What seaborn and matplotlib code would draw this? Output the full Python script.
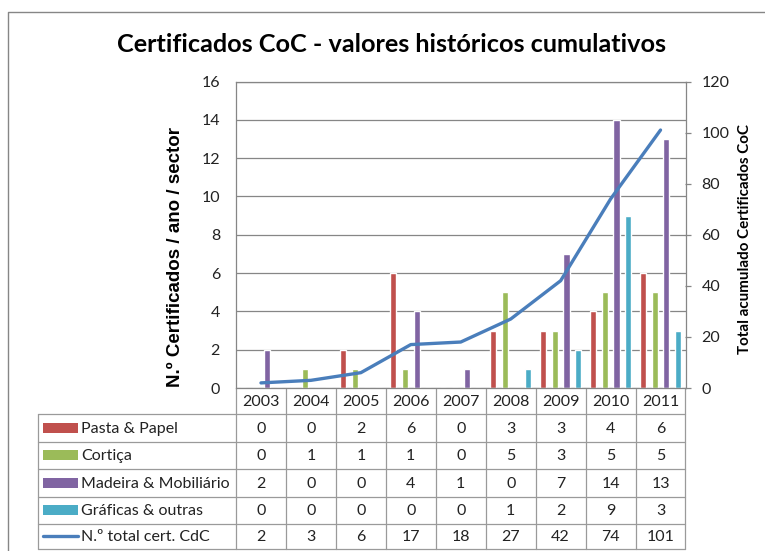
import numpy as np
import pandas as pd
import matplotlib
matplotlib.use('Agg')
import matplotlib.pyplot as plt
import seaborn as sns

# ---------------- data ----------------
years = ['2003', '2004', '2005', '2006', '2007', '2008', '2009', '2010', '2011']
pasta_papel = [0, 0, 2, 6, 0, 3, 3, 4, 6]
cortica = [0, 1, 1, 1, 0, 5, 3, 5, 5]
madeira = [2, 0, 0, 4, 1, 0, 7, 14, 13]
graficas = [0, 0, 0, 0, 0, 1, 2, 9, 3]
total_cum = [2, 3, 6, 17, 18, 27, 42, 74, 101]
sector_names = ['Pasta & Papel', 'Cortiça', 'Madeira & Mobiliário', 'Gráficas & outras']
line_name = 'N.º total cert. CdC'
title = 'Certificados CoC - valores históricos cumulativos'
ylabel_left = 'N.º Certificados / ano / sector'
ylabel_right = 'Total acumulado Certificados CoC'

bar_colors = ['#C0504D', '#9BBB59', '#8064A2', '#4BACC6']
line_color = '#4A7EBB'
grid_color = '#868686'
text_color = '#000000'

sector_values = [pasta_papel, cortica, madeira, graficas]
rows = []
for name, vals in zip(sector_names, sector_values):
    for y, v in zip(years, vals):
        rows.append({'year': y, 'sector': name, 'value': v})
df = pd.DataFrame(rows)

# ---------------- figure ----------------
sns.set_theme(style='white')
plt.rcParams['font.family'] = ['Lato', 'DejaVu Sans']

W, H = 765, 551
fig = plt.figure(figsize=(W / 100, H / 100), dpi=100)
fig.patch.set_facecolor('white')


def px(x0, y0, x1, y1):
    return [x0 / W, 1 - y1 / H, (x1 - x0) / W, (y1 - y0) / H]


L, T, R, B = 236, 81.5, 685.5, 388
FS = 11.5

# overlay for table / frame
tab = fig.add_axes([0, 0, 1, 1])
tab.set_xlim(0, W)
tab.set_ylim(H, 0)
tab.axis('off')
tab.patch.set_visible(False)

ax = fig.add_axes(px(L, T, R, B))
sns.barplot(data=df, x='year', y='value', hue='sector', hue_order=sector_names,
            order=years, palette=bar_colors, saturation=1, width=0.94, gap=0.48,
            ax=ax, legend=False, zorder=2)
ax.set_xlim(-0.5, 8.5)
ax.set_ylim(0, 16)
ax.set_yticks(np.arange(0, 17, 2))
ax.yaxis.grid(True, color=grid_color, lw=0.9, zorder=0)
ax.set_axisbelow(True)
ax.set_xticks([])
ax.set_xlabel('')
ax.set_ylabel('')
ax.tick_params(axis='y', length=0, pad=11.5, labelsize=FS, labelcolor='#222222')
for s in ax.spines.values():
    s.set_color(grid_color)
    s.set_linewidth(0.9)

ax2 = ax.twinx()
sns.lineplot(x=np.arange(len(years)), y=total_cum, ax=ax2, color=line_color,
             lw=2.4, solid_capstyle='round')
ax2.set_xlim(-0.5, 8.5)
ax2.set_ylim(0, 120)
ax2.set_yticks(np.arange(0, 121, 20))
ax2.set_ylabel('')
ax2.tick_params(axis='y', length=4, width=0.9, color=grid_color, direction='out',
                pad=7.5, labelsize=FS, labelcolor='#222222')
for s in ax2.spines.values():
    s.set_visible(False)

# axis titles and chart title
fig.text(391.5 / W, 1 - 45 / H, title, ha='center', va='center',
         fontsize=18.2, fontweight='bold', color=text_color)
fig.text(175 / W, 1 - 257 / H, ylabel_left, ha='center', va='center', rotation=90,
         fontsize=13.5, fontweight='bold', family=['Liberation Sans', 'DejaVu Sans'],
         color=text_color)
fig.text(745 / W, 1 - 239 / H, ylabel_right, ha='center', va='center', rotation=90,
         fontsize=10.9, fontweight='bold', color=text_color)

# outer chart frame
tab.plot([8, 8, W], [H, 12, 12], color=grid_color, lw=1.0)

# ---------------- data table ----------------
xs = [L + k * (R - L) / len(years) for k in range(len(years) + 1)]
ys = [B, 414, 441.5, 469, 496.5, 523.5, 549]
left_x = 38
tc = '#9a9a9a'
for i, yv in enumerate(ys):
    if i == 0:
        continue
    tab.plot([left_x, R], [yv, yv], color=tc, lw=0.9)
for k, xv in enumerate(xs):
    tab.plot([xv, xv], [ys[0], ys[-1]], color=tc, lw=0.9)
tab.plot([left_x, left_x], [ys[1], ys[-1]], color=tc, lw=0.9)

cx = [(xs[k] + xs[k + 1]) / 2 for k in range(len(years))]
for k, yr in enumerate(years):
    tab.text(cx[k], (ys[0] + ys[1]) / 2 + 1, yr, ha='center', va='center',
             fontsize=FS, color='#222222')

all_rows = sector_values + [total_cum]
all_names = sector_names + [line_name]
for r, (name, vals) in enumerate(zip(all_names, all_rows)):
    yc = (ys[r + 1] + ys[r + 2]) / 2
    if r < 4:
        tab.add_patch(plt.Rectangle((43, yc - 5), 35, 10, color=bar_colors[r], lw=0))
    else:
        tab.plot([43, 78], [yc, yc], color=line_color, lw=2.4)
    tab.text(81, yc + 1, name, ha='left', va='center', fontsize=FS, color='#222222')
    for k, v in enumerate(vals):
        tab.text(cx[k], yc + 1, str(v), ha='center', va='center', fontsize=FS,
                 color='#222222')

fig.savefig('out.png', dpi=100, facecolor='white')
